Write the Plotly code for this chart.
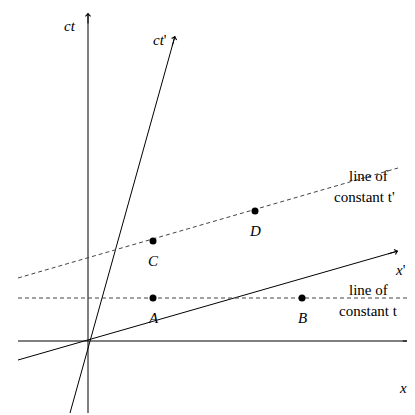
import plotly.graph_objects as go

# coordinates with the origin of both frames at (0, 0)
axis_x = [-70, 325]
axis_ct = [-72, 328]
ctp_x = [-18, 87]
ctp_y = [-72, 305]
xp_x = [-70, 310]
xp_y = [-19, 90]
t_const_x = [-70, 325]
t_const_y = [43, 43]
tp_const_x = [-70, 310]
tp_const_y = [63, 173]
pt_names = ["A", "B", "C", "D"]
pt_x = [65, 214, 65, 167]
pt_y = [43, 43, 100, 130]

font = dict(family="Liberation Serif", size=15, color="black")
solid = dict(color="black", width=1)
dash = dict(color="#444", width=1, dash="4px,3px")

fig = go.Figure()
fig.add_trace(go.Scatter(x=axis_x, y=[0, 0], mode="lines", line=solid))
fig.add_trace(go.Scatter(x=[0, 0], y=axis_ct, mode="lines", line=solid))
fig.add_trace(go.Scatter(x=ctp_x, y=ctp_y, mode="lines", line=solid))
fig.add_trace(go.Scatter(x=xp_x, y=xp_y, mode="lines", line=solid))
fig.add_trace(go.Scatter(x=t_const_x, y=t_const_y, mode="lines", line=dash))
fig.add_trace(go.Scatter(x=tp_const_x, y=tp_const_y, mode="lines", line=dash))
fig.add_trace(go.Scatter(x=pt_x, y=pt_y, mode="markers",
                         marker=dict(color="black", size=7)))

# arrowheads at the end of each axis
for x0, y0, x1, y1 in [(axis_x[0], 0, axis_x[1], 0), (0, axis_ct[0], 0, axis_ct[1]),
                       (ctp_x[0], ctp_y[0], ctp_x[1], ctp_y[1]),
                       (xp_x[0], xp_y[0], xp_x[1], xp_y[1])]:
    fig.add_annotation(x=x1, y=y1, ax=x1 - (x1 - x0) * 0.03, ay=y1 - (y1 - y0) * 0.03,
                       xref="x", yref="y", axref="x", ayref="y", text="",
                       showarrow=True, arrowhead=4, arrowsize=1, arrowwidth=1,
                       arrowcolor="black")

for n, x, y in zip(pt_names, pt_x, pt_y):
    fig.add_annotation(x=x, y=y - 20, text="<i>%s</i>" % n, showarrow=False, font=font)

labels = [
    (-18, 315, "<i>ct</i>"),
    (72, 301, "<i>ct</i>'"),
    (312, 71, "<i>x</i>'"),
    (315, -47, "<i>x</i>"),
    (280, 165, "line of"),
    (276, 144, "constant t'"),
    (280, 51, "line of"),
    (280, 30, "constant t"),
]
for x, y, t in labels:
    fig.add_annotation(x=x, y=y, text=t, showarrow=False, font=font)

fig.update_layout(
    width=415, height=415, showlegend=False,
    margin=dict(l=0, r=0, t=0, b=0, autoexpand=False),
    plot_bgcolor="white", paper_bgcolor="white",
    xaxis=dict(range=[-80, 335], visible=False),
    yaxis=dict(range=[-82, 333], visible=False),
)
fig.write_html("out.html")
